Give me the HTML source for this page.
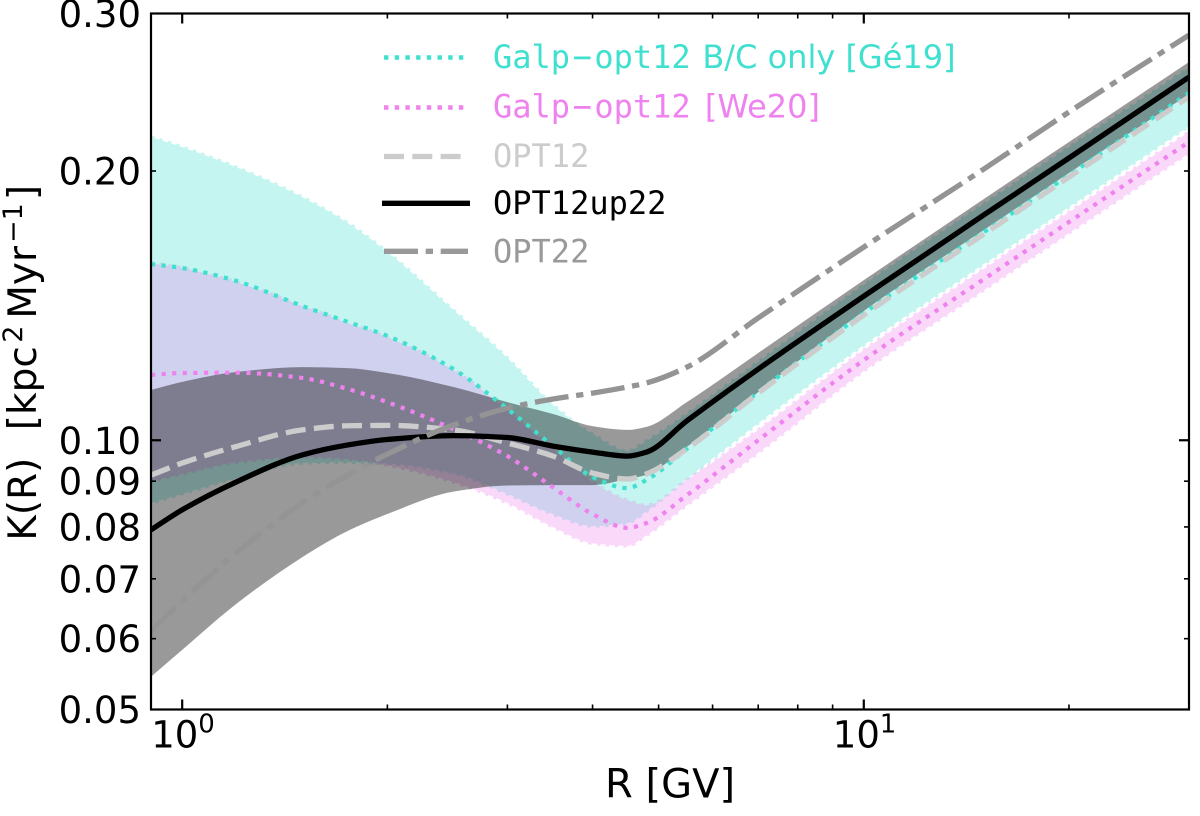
<!DOCTYPE html>
<html lang="en">
<head>
<meta charset="utf-8">
<title>K(R) diffusion coefficient</title>
<style>
html,body{margin:0;padding:0;background:#fff;width:1200px;height:816px;overflow:hidden}
svg{display:block}
text{font-family:"DejaVu Sans","Liberation Sans",sans-serif;fill:#000}
.mono{font-family:"DejaVu Sans Mono","Liberation Mono",monospace}
</style>
</head>
<body>
<svg id="chart" xmlns="http://www.w3.org/2000/svg" width="1200" height="816" viewBox="0 0 1200 816">
<defs><clipPath id="plot-clip"><rect x="151" y="13.5" width="1038" height="696"/></clipPath></defs>
<rect x="0" y="0" width="1200" height="816" fill="#fff"/>
<g id="bands" clip-path="url(#plot-clip)"></g>
<g id="lines" clip-path="url(#plot-clip)"></g>
<g id="ticks"></g>
<g id="labels"></g>
<rect x="151" y="13.5" width="1038" height="696" fill="none" stroke="#000" stroke-width="2.2"/>

<text x="605" y="797.3" font-size="40">R [GV]</text>
<text transform="translate(36,540.8) rotate(-90)" font-size="39">K(R)<tspan dx="2.7">&#160;&#160;[kpc</tspan><tspan font-size="27" dx="3.5" dy="-14">2</tspan><tspan dx="-5.6" dy="14">&#160;Myr</tspan><tspan font-size="27" dx="3" dy="-14">−1</tspan><tspan dx="3" dy="14">]</tspan></text>

<g>
  <g>
    <line x1="384" x2="464" y1="57.5" y2="57.5" stroke="#40e0d0" stroke-width="4.4" stroke-dasharray="4.4 6.3"/>
    <text x="493" y="68" font-size="32" style="fill:#40e0d0"><tspan class="mono">Galp<tspan dx="2.5">−</tspan><tspan dx="2.5">opt12</tspan></tspan><tspan dx="1.5"> B/C only [Gé19]</tspan></text>
  </g>
  <g>
    <line x1="384" x2="464" y1="107.5" y2="107.5" stroke="#ee82ee" stroke-width="4.4" stroke-dasharray="4.4 6.3"/>
    <text x="493" y="117.7" font-size="32" style="fill:#ee82ee"><tspan class="mono">Galp<tspan dx="2.5">−</tspan><tspan dx="2.5">opt12</tspan></tspan><tspan dx="4"> [We20]</tspan></text>
  </g>
  <g>
    <line x1="384" x2="464" y1="156.5" y2="156.5" stroke="#ccc" stroke-width="5.3" stroke-dasharray="20 8.3"/>
    <text class="mono" x="493" y="167" font-size="32" style="fill:#ccc">OPT12</text>
  </g>
  <g>
    <line x1="382" x2="470" y1="203.3" y2="203.3" stroke="#000" stroke-width="5.3"/>
    <text class="mono" x="493" y="214" font-size="32">OPT12up22</text>
  </g>
  <g>
    <line x1="384" x2="468" y1="251.3" y2="251.3" stroke="#999" stroke-width="5.3" stroke-dasharray="34 7.7 7.3 7.7"/>
    <text class="mono" x="493" y="262.5" font-size="32" style="fill:#999">OPT22</text>
  </g>
</g>
</svg>
<script>
// Rigidity grid [GV]
const rigidity = [0.9,1,1.2,1.5,1.75,2,2.5,3,3.5,4,4.5,4.8,5.5,7,10,15,20,30];

// Diffusion coefficient K(R) [kpc^2 / Myr]
const opt12up22     = [.0794,.0836,.0898,.0963,.0988,.1002,.1012,.1007,.0985,.0970,.0960,.0970,.1051,.1201,.1449,.1786,.2068,.2547];
const opt12up22High = [.1138,.1162,.1192,.1207,.1204,.1189,.1147,.1103,.1070,.1037,.1027,.1035,.1103,.1252,.1510,.1861,.2155,.2648];
const opt12up22Low  = [.0544,.0583,.0656,.0740,.0792,.0827,.0876,.0890,.0891,.0891,.0905,.0915,.0983,.1132,.1395,.1718,.1990,.2438];

const galpBC        = [.1574,.1558,.1507,.1413,.1356,.1308,.1201,.1084,.0985,.0910,.0884,.0903,.0978,.1132,.1387,.1709,.1979,.2445];
const galpBCHigh    = [.2183,.2127,.2020,.1870,.1749,.1623,.1398,.1236,.1095,.1016,.0973,.0998,.1070,.1223,.1491,.1837,.2127,.2607];
const galpBCLow     = [.0851,.0871,.0907,.0943,.0945,.0942,.0919,.0871,.0827,.0802,.0808,.0833,.0905,.1045,.1278,.1574,.1823,.2245];

const galpWe        = [.1183,.1189,.1190,.1174,.1141,.1103,.1029,.0960,.0886,.0827,.0798,.0808,.0868,.1000,.1229,.1514,.1754,.2155];
const galpWeHigh    = [.1578,.1558,.1503,.1413,.1352,.1304,.1198,.1081,.0978,.0898,.0857,.0846,.0903,.1027,.1261,.1554,.1799,.2211];
const galpWeLow     = [.0900,.0917,.0945,.0958,.0953,.0938,.0898,.0851,.0800,.0767,.0762,.0783,.0846,.0968,.1195,.1472,.1705,.2095];

const opt12         = [.0914,.0943,.0984,.1027,.1038,.1039,.1027,.0993,.0960,.0919,.0905,.0917,.0978,.1129,.1380,.1700,.1969,.2420];
const opt22         = [.0612,.0661,.0748,.0851,.0914,.0965,.1040,.1086,.1112,.1129,.1147,.1159,.1207,.1370,.1644,.2010,.2328,.2838];

// Ticks
const xMajorTicks = [1,10];
const xMinorTicks = [2,3,4,5,6,7,8,9,20,30];
const yMajorTicks = [0.1];
const yMinorTicks = [0.05,0.06,0.07,0.08,0.09,0.2,0.3];
const yTickLabels = ["0.05","0.06","0.07","0.08","0.09","0.10","0.20","0.30"];
const xTickExponents = ["0","1"];

// Axis functions
const plotLeft = 151, plotRight = 1189, plotTop = 13.5, plotBottom = 709.5;
const xMin = 0.9, xMax = 30, yMin = 0.05, yMax = 0.3;
function xScale(r){ return plotLeft + (Math.log10(r)-Math.log10(xMin))/(Math.log10(xMax)-Math.log10(xMin))*(plotRight-plotLeft); }
function yScale(k){ return plotBottom - (Math.log10(k)-Math.log10(yMin))/(Math.log10(yMax)-Math.log10(yMin))*(plotBottom-plotTop); }

const NS = "http://www.w3.org/2000/svg";
function points(xs, ys){ return xs.map((x,i)=>[xScale(x), yScale(ys[i])]); }
// Monotone cubic interpolation through the points (no overshoot at kinks)
function spline(p, move){
  const n = p.length;
  const s = [], h = [];
  for(let i=0;i<n-1;i++){
    h[i] = p[i+1][0]-p[i][0];
    s[i] = (p[i+1][1]-p[i][1])/h[i];
  }
  const m = [s[0]];
  for(let i=1;i<n-1;i++){
    if(s[i-1]*s[i] <= 0){ m[i] = 0; continue; }
    const h0 = Math.abs(h[i-1]), h1 = Math.abs(h[i]);
    const w1 = 2*h1+h0, w2 = h1+2*h0;
    m[i] = (w1+w2)/(w1/s[i-1]+w2/s[i]);
  }
  m[n-1] = s[n-2];
  let d = (move?"M":"L") + p[0][0].toFixed(2) + " " + p[0][1].toFixed(2);
  for(let i=0;i<n-1;i++){
    const dx = h[i]/3;
    d += " C"+(p[i][0]+dx).toFixed(2)+" "+(p[i][1]+m[i]*dx).toFixed(2)+" "
       +(p[i+1][0]-dx).toFixed(2)+" "+(p[i+1][1]-m[i+1]*dx).toFixed(2)+" "
       +p[i+1][0].toFixed(2)+" "+p[i+1][1].toFixed(2);
  }
  return d;
}
function bandPath(high, low){
  return spline(points(rigidity, high), true) + " " + spline(points(rigidity, low).reverse(), false) + " Z";
}

const bands = document.getElementById("bands");
const lines = document.getElementById("lines");
const ticks = document.getElementById("ticks");
const labels = document.getElementById("labels");

function addDottedBand(high, low, color, name){
  const g = document.createElementNS(NS,"g");
  g.setAttribute("opacity","0.3");
  
  
  const path = document.createElementNS(NS,"path");
  path.setAttribute("d", bandPath(high, low));
  path.setAttribute("fill", color);
  path.setAttribute("stroke", color);
  path.setAttribute("stroke-width", "3.4");
  path.setAttribute("stroke-dasharray", "3.4 5.4");
  
  
  g.appendChild(path);
  bands.appendChild(g);
}
addDottedBand(galpBCHigh, galpBCLow, "#40e0d0", "band-galp-opt12-bc");
addDottedBand(galpWeHigh, galpWeLow, "#ee82ee", "band-galp-opt12-we20");

const grayBand = document.createElementNS(NS,"path");
grayBand.setAttribute("d", bandPath(opt12up22High, opt12up22Low));
grayBand.setAttribute("fill", "#000");
grayBand.setAttribute("fill-opacity", "0.4");


bands.appendChild(grayBand);

function addLine(values, color, width, dash, name){
  const path = document.createElementNS(NS,"path");
  path.setAttribute("d", spline(points(rigidity, values), true));
  path.setAttribute("fill", "none");
  path.setAttribute("stroke", color);
  path.setAttribute("stroke-width", width);
  if(dash) path.setAttribute("stroke-dasharray", dash);
  
  
  lines.appendChild(path);
}
addLine(galpBC, "#40e0d0", 4.2, "4.2 6.4", "line-galp-opt12-bc");
addLine(galpWe, "#ee82ee", 4.2, "4.2 6.4", "line-galp-opt12-we20");
addLine(opt12, "#ccc", 5.3, "20 8.3", "line-opt12");
addLine(opt12up22, "#000", 5.3, null, "line-opt12up22");
addLine(opt22, "#949494", 5.3, "34 7.7 7.3 7.7", "line-opt22");

function addTick(x1,y1,x2,y2,w,name){
  const t = document.createElementNS(NS,"line");
  t.setAttribute("x1",x1); t.setAttribute("y1",y1); t.setAttribute("x2",x2); t.setAttribute("y2",y2);
  t.setAttribute("stroke","#000"); t.setAttribute("stroke-width",w);
  
  
  ticks.appendChild(t);
}
xMajorTicks.forEach(v=>{ const x=xScale(v);
  addTick(x,plotBottom,x,plotBottom-10,2.2,"x-major-tick");
  addTick(x,plotTop,x,plotTop+10,2.2,"x-major-tick-top"); });
xMinorTicks.forEach(v=>{ const x=xScale(v);
  addTick(x,plotBottom,x,plotBottom-5,1.6,"x-minor-tick");
  addTick(x,plotTop,x,plotTop+5,1.6,"x-minor-tick-top"); });
yMajorTicks.forEach(v=>{ const y=yScale(v);
  addTick(plotLeft,y,plotLeft+10,y,2.2,"y-major-tick");
  addTick(plotRight,y,plotRight-10,y,2.2,"y-major-tick-right"); });
yMinorTicks.forEach(v=>{ const y=yScale(v);
  addTick(plotLeft,y,plotLeft+5,y,1.6,"y-minor-tick");
  addTick(plotRight,y,plotRight-5,y,1.6,"y-minor-tick-right"); });

yTickLabels.forEach(s=>{
  const t = document.createElementNS(NS,"text");
  t.setAttribute("x", 141);
  t.setAttribute("y", yScale(parseFloat(s)) + 13.5);
  t.setAttribute("text-anchor", "end");
  t.setAttribute("font-size", "37");
  
  
  t.textContent = s;
  labels.appendChild(t);
});
xMajorTicks.forEach((v,i)=>{
  const x = xScale(v);
  const t = document.createElementNS(NS,"text");
  t.setAttribute("x", x-31);
  t.setAttribute("y", 747.5);
  t.setAttribute("font-size", "37");
  
  
  t.textContent = "10";
  labels.appendChild(t);
  const s = document.createElementNS(NS,"text");
  s.setAttribute("x", x+16);
  s.setAttribute("y", 732.5);
  s.setAttribute("font-size", "26");
  
  
  s.textContent = xTickExponents[i];
  labels.appendChild(s);
});
</script>
</body>
</html>
